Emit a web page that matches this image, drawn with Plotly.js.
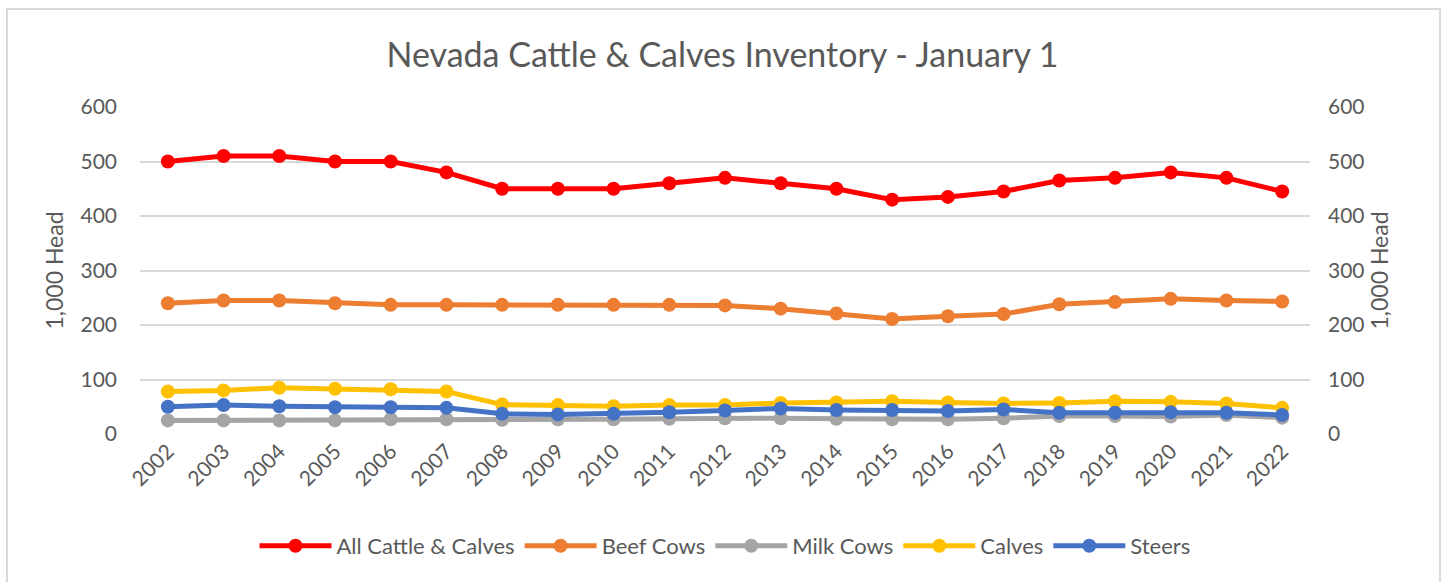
<!DOCTYPE html>
<html>
<head>
<meta charset="utf-8">
<script src="https://cdn.plot.ly/plotly-3.0.1.min.js"></script>
<style>
  html, body { margin: 0; padding: 0; background: #fff; overflow: hidden; }
  #chart { width: 1445px; height: 582px; }
  #frame { position: absolute; left: 6px; top: 8px; width: 1435px; height: 600px;
           border: 2px solid #d9d9d9; pointer-events: none; box-sizing: border-box; }
</style>
</head>
<body>
<div id="chart"></div>
<div id="frame"></div>
<script>
const years = ['2002','2003','2004','2005','2006','2007','2008','2009','2010','2011','2012',
               '2013','2014','2015','2016','2017','2018','2019','2020','2021','2022'];
const allCattle = [500,510,510,500,500,480,450,450,450,460,470,460,450,430,435,445,465,470,480,470,445];
const beefCows  = [240,245,245,240,237,237,237,237,237,237,236,230,221,211,216,220,238,242,248,245,243];
const milkCows  = [25,25,25,25,27,27,26,27,27,28,29,29,28,27,27,29,33,33,32,35,30];
const calves    = [78,80,85,83,82,78,54,53,51,53,53,57,58,60,58,56,57,60,59,56,48];
const steers    = [50,53,51,49,49,48,37,36,37,40,43,47,44,44,42,45,39,39,40,39,35];
const yTicks    = [0,100,200,300,400,500,600];

const names  = ['All Cattle & Calves','Beef Cows','Milk Cows','Calves','Steers'];
const series = [allCattle, beefCows, milkCows, calves, steers];
const colors = ['#FF0000','#ED7D31','#A5A5A5','#FFC000','#4472C4'];

const traces = series.map((vals, i) => ({
  x: years, y: vals, name: names[i], type: 'scatter', mode: 'lines+markers',
  line: { color: colors[i], width: 5 },
  marker: { color: colors[i], size: 14 },
  hoverinfo: 'x+y+name'
}));
// invisible trace to drive right axis
traces.push({ x: years, y: allCattle, yaxis: 'y2', type: 'scatter', mode: 'lines',
  line: { width: 0, color: 'rgba(0,0,0,0)' }, showlegend: false, hoverinfo: 'skip' });

const font = 'Lato, "Open Sans", sans-serif';
const txt = '#595959';
const layout = {
  width: 1445, height: 582,
  margin: { l: 140, r: 135, t: 107, b: 148 },
  paper_bgcolor: '#fff', plot_bgcolor: '#fff',
  font: { family: font, color: txt, size: 21 },
  title: { text: 'Nevada Cattle & Calves Inventory - January 1', font: { family: font, size: 34, color: txt },
           x: 0.5, xanchor: 'center', y: 0.905, yanchor: 'middle' },
  xaxis: { type: 'category', range: [-0.5, 20.5], tickangle: -45, showgrid: false, zeroline: false, showline: false,
           ticks: '', tickfont: { size: 21, color: txt }, automargin: false },
  yaxis: { range: [0, 600], tickvals: yTicks, ticktext: yTicks.map(String), showgrid: true,
           gridcolor: '#d9d9d9', gridwidth: 1.5, zeroline: false, showline: false, ticks: '',
           ticklabelstandoff: 22, tickfont: { size: 21, color: txt },
           title: { text: '1,000 Head', font: { size: 23, color: txt }, standoff: 10 }, automargin: false },
  yaxis2: { range: [0, 600], tickvals: yTicks, ticktext: yTicks.map(String), overlaying: 'y', side: 'right',
            showgrid: false, zeroline: false, showline: false, ticks: '', ticklabelstandoff: 17,
            tickfont: { size: 21, color: txt },
            title: { text: '1,000 Head', font: { size: 23, color: txt }, standoff: 4 }, automargin: false },
  legend: { orientation: 'h', x: 0.5, xanchor: 'center', y: -0.3425, yanchor: 'middle',
            font: { size: 22, color: txt }, itemwidth: 72, tracegroupgap: 0 },
  showlegend: true
};
Plotly.newPlot('chart', traces, layout, { displayModeBar: false });
</script>
</body>
</html>
